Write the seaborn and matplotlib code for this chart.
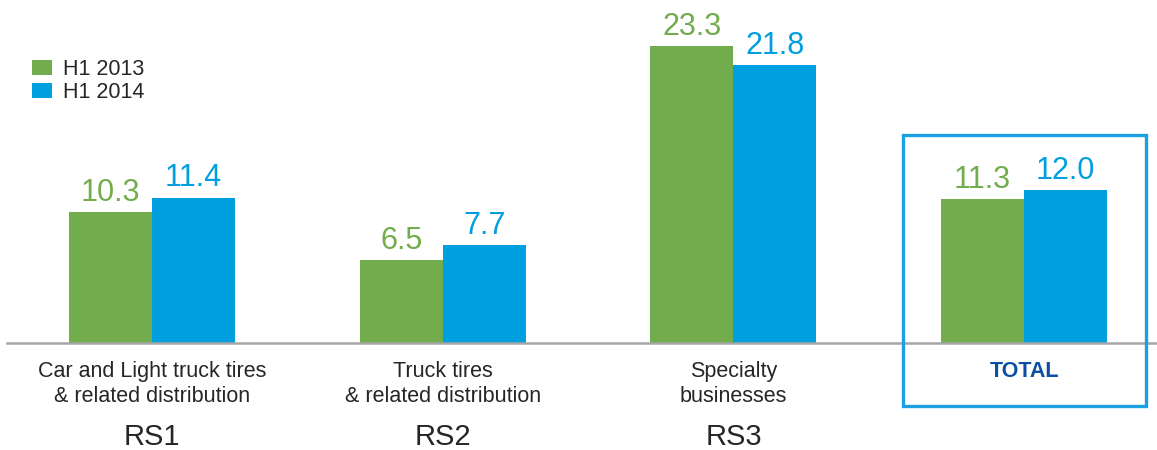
import matplotlib
matplotlib.use("Agg")
import matplotlib.pyplot as plt
import seaborn as sns
import pandas as pd
from matplotlib.patches import Rectangle

categories = ["Car and Light truck tires\n& related distribution",
              "Truck tires\n& related distribution",
              "Specialty\nbusinesses",
              "TOTAL"]
segments = ["RS1", "RS2", "RS3", ""]
series = ["H1 2013", "H1 2014"]
h1_2013 = [10.3, 6.5, 23.3, 11.3]
h1_2014 = [11.4, 7.7, 21.8, 12.0]

GREEN = "#72AC4D"
BLUE = "#009FDF"
TEXT = "#262626"
DARKBLUE = "#0B4EA2"

df = pd.DataFrame({
    "category": categories * 2,
    "series": [series[0]] * 4 + [series[1]] * 4,
    "value": h1_2013 + h1_2014,
})

sns.set_theme(style="white")
plt.rcParams["font.family"] = ["Liberation Sans", "DejaVu Sans"]

fig = plt.figure(figsize=(11.57, 4.5), dpi=100)
W, H = 1157, 450
ax = fig.add_axes([7 / W, 107 / H, 1150 / W, 343 / H])

sns.barplot(data=df, x="category", y="value", hue="series",
            palette=[GREEN, BLUE], width=0.571, ax=ax, saturation=1,
            edgecolor="none", linewidth=0)

ax.set_xlim(-0.499, 3.457)
ax.set_ylim(0, 343 / 12.75)

for cont, col in zip(ax.containers, [GREEN, BLUE]):
    ax.bar_label(cont, fmt="%.1f", padding=3, fontsize=22, color=col)

for s in ["top", "right", "left"]:
    ax.spines[s].set_visible(False)
ax.spines["bottom"].set_color("#A6A6A6")
ax.spines["bottom"].set_linewidth(1.8)
ax.set_yticks([])
ax.set_xlabel("")
ax.set_ylabel("")
ax.tick_params(axis="x", length=0, pad=13)
ax.set_xticks(range(len(categories)))
ax.set_xticklabels(categories, fontsize=15.5, color=TEXT, linespacing=1.25)
lbl = ax.get_xticklabels()[3]
lbl.set_fontweight("bold")
lbl.set_color(DARKBLUE)
lbl.set_fontsize(15.5)

for i, s in enumerate(segments):
    ax.text(i, -102 / 12.75, s, ha="center", va="baseline",
            fontsize=21, color=TEXT, clip_on=False)

leg = ax.legend(loc="upper left", bbox_to_anchor=(16 / 1150, (343 - 50) / 343),
                frameon=False, fontsize=15.5, handlelength=0.93, handleheight=0.7,
                handletextpad=0.55, labelspacing=0.12, borderaxespad=0)
for t in leg.get_texts():
    t.set_color(TEXT)

fig.patches.append(Rectangle((903 / W, (H - 406) / H), 243 / W, 271 / H,
                             transform=fig.transFigure, fill=False,
                             edgecolor="#1BA1E2", linewidth=2.4))

fig.savefig("out.png", dpi=100)
